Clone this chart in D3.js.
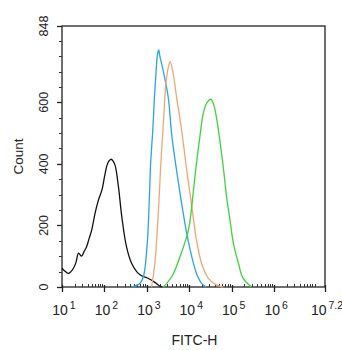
<!DOCTYPE html>
<html>
<head>
<meta charset="utf-8">
<script src="https://cdn.jsdelivr.net/npm/d3@7"></script>
<style>
  body { margin: 0; background: #fff; }
  text { font-family: "Liberation Sans", Arial, sans-serif; fill: #222; }
</style>
</head>
<body>
<div id="chart"></div>
<script>
// histogram values: x in log10(FITC-H), y in counts
const blackLog   = [1.00, 1.08, 1.15, 1.21, 1.27, 1.33, 1.39, 1.46, 1.52, 1.58, 1.64, 1.70, 1.78, 1.86, 1.94, 2.01, 2.06, 2.10, 2.15, 2.19, 2.25, 2.33, 2.41, 2.52, 2.64, 2.76, 2.84, 2.91, 3.00, 3.07, 3.19, 3.31, 3.36];
const blackCount = [61, 50, 44, 50, 61, 80, 110, 100, 115, 131, 158, 185, 240, 283, 315, 364, 395, 408, 415, 412, 396, 326, 228, 131, 77, 50, 40, 34, 30, 25, 15, 3, 0];

const blueLog   = [2.64, 2.84, 2.92, 3.01, 3.06, 3.09, 3.14, 3.18, 3.22, 3.25, 3.28, 3.31, 3.35, 3.39, 3.45, 3.51, 3.59, 3.70, 3.82, 3.94, 4.06, 4.17, 4.29, 4.40];
const blueCount = [0, 12, 34, 142, 293, 402, 510, 618, 705, 754, 770, 748, 725, 700, 660, 610, 490, 380, 272, 174, 98, 44, 12, 0];

const orangeLog   = [3.11, 3.19, 3.27, 3.33, 3.39, 3.45, 3.51, 3.55, 3.62, 3.70, 3.82, 3.94, 4.06, 4.17, 4.29, 4.45, 4.65, 4.80];
const orangeCount = [0, 77, 240, 402, 532, 662, 716, 732, 694, 618, 510, 380, 261, 153, 77, 28, 6, 0];

const greenLog   = [3.39, 3.59, 3.78, 3.98, 4.10, 4.17, 4.25, 4.33, 4.41, 4.51, 4.58, 4.65, 4.73, 4.81, 4.88, 4.96, 5.04, 5.16, 5.27, 5.47];
const greenCount = [0, 34, 98, 185, 315, 402, 488, 564, 597, 610, 591, 543, 467, 380, 293, 218, 142, 77, 28, 0];

const seriesNames  = ["isotype", "sample1", "sample2", "sample3"];
const seriesColors = ["#111111", "#2aa6dc", "#f2a675", "#3fd13f"];

const xTickExps = [1, 2, 3, 4, 5, 6, 7.2];
const yTicks = [0, 200, 400, 600, 848];

const width = 342, height = 350;
const margin = {top: 26, right: 17, bottom: 63, left: 62};

const svg = d3.select("#chart")
  .append("svg")
  .attr("width", width)
  .attr("height", height);

const x = d3.scaleLog()
  .domain([10, Math.pow(10, 7.2)])
  .range([margin.left, width - margin.right]);

const y = d3.scaleLinear()
  .domain([0, 848])
  .range([height - margin.bottom, margin.top]);

const series = [
  {name: seriesNames[0], colour: seriesColors[0], log: blackLog, count: blackCount},
  {name: seriesNames[1], colour: seriesColors[1], log: blueLog, count: blueCount},
  {name: seriesNames[2], colour: seriesColors[2], log: orangeLog, count: orangeCount},
  {name: seriesNames[3], colour: seriesColors[3], log: greenLog, count: greenCount}
];

// frame
svg.append("rect")
  .attr("x", x.range()[0])
  .attr("y", y.range()[1])
  .attr("width", x.range()[1] - x.range()[0])
  .attr("height", y.range()[0] - y.range()[1])
  .attr("fill", "none")
  .attr("stroke", "#222")
  .attr("stroke-width", 1.3);

// y axis: majors + minor ticks every 50
const yMinor = d3.range(0, 848, 50);
svg.append("g")
  .selectAll("line.yminor")
  .data(yMinor)
  .enter()
  .append("line")
  .attr("x1", margin.left - 3)
  .attr("x2", margin.left)
  .attr("y1", d => Math.round(y(d)) + 0.5)
  .attr("y2", d => Math.round(y(d)) + 0.5)
  .attr("stroke", "#333");

svg.append("g")
  .selectAll("line.ymajor")
  .data(yTicks)
  .enter()
  .append("line")
  .attr("x1", margin.left - 5)
  .attr("x2", margin.left)
  .attr("y1", d => Math.round(y(d)) + 0.5)
  .attr("y2", d => Math.round(y(d)) + 0.5)
  .attr("stroke", "#222")
  .attr("stroke-width", 1.3);

svg.append("g")
  .selectAll("text.ylab")
  .data(yTicks)
  .enter()
  .append("text")
  .attr("transform", d => `translate(48, ${y(d)}) rotate(-90)`)
  .attr("text-anchor", "middle")
  .style("font-size", "12.5px")
  .text(d => d);

svg.append("text")
  .attr("transform", `translate(23, ${(y(0) + y(848)) / 2}) rotate(-90)`)
  .attr("text-anchor", "middle")
  .style("font-size", "13.5px")
  .text("Count");

// x axis: log minor ticks and decade majors
let xMinor = [];
for (let e = 1; e < 8; e++) {
  for (let m = 2; m < 10; m++) {
    let v = m * Math.pow(10, e);
    if (v < x.domain()[1]) xMinor.push(v);
  }
}
svg.append("g")
  .selectAll("line.xminor")
  .data(xMinor)
  .enter()
  .append("line")
  .attr("x1", d => Math.round(x(d)) + 0.5)
  .attr("x2", d => Math.round(x(d)) + 0.5)
  .attr("y1", y(0) - 3)
  .attr("y2", y(0))
  .attr("stroke", "#333");

svg.append("g")
  .selectAll("line.xmajor")
  .data(xTickExps)
  .enter()
  .append("line")
  .attr("x1", d => Math.round(x(Math.pow(10, d))) + 0.5)
  .attr("x2", d => Math.round(x(Math.pow(10, d))) + 0.5)
  .attr("y1", y(0) - 2)
  .attr("y2", y(0) + 5)
  .attr("stroke", "#222")
  .attr("stroke-width", 1.3);

let xLab = svg.append("g")
  .selectAll("text.xlab")
  .data(xTickExps)
  .enter()
  .append("text")
  .attr("x", d => x(Math.pow(10, d)) + 2)
  .attr("y", 315)
  .attr("text-anchor", "middle")
  .style("font-size", "14px");

xLab.append("tspan").text("10");
xLab.append("tspan")
  .attr("dy", -6)
  .attr("dx", 2)
  .style("font-size", "10.5px")
  .text(d => d);

svg.append("text")
  .attr("x", (x.range()[0] + x.range()[1]) / 2 + 1)
  .attr("y", 345)
  .attr("text-anchor", "middle")
  .style("font-size", "14px")
  .text("FITC-H");

// histogram outlines
const line = d3.line()
  .x(d => x(Math.pow(10, d[0])))
  .y(d => y(d[1]))
  .curve(d3.curveCatmullRom);

svg.append("g")
  .selectAll("path.hist")
  .data(series)
  .enter()
  .append("path")
  .attr("class", "hist")
  .attr("d", s => line(s.log.map((v, i) => [v, s.count[i]])))
  .attr("fill", "none")
  .attr("stroke", s => s.colour)
  .attr("stroke-width", 1.3);
</script>
</body>
</html>
